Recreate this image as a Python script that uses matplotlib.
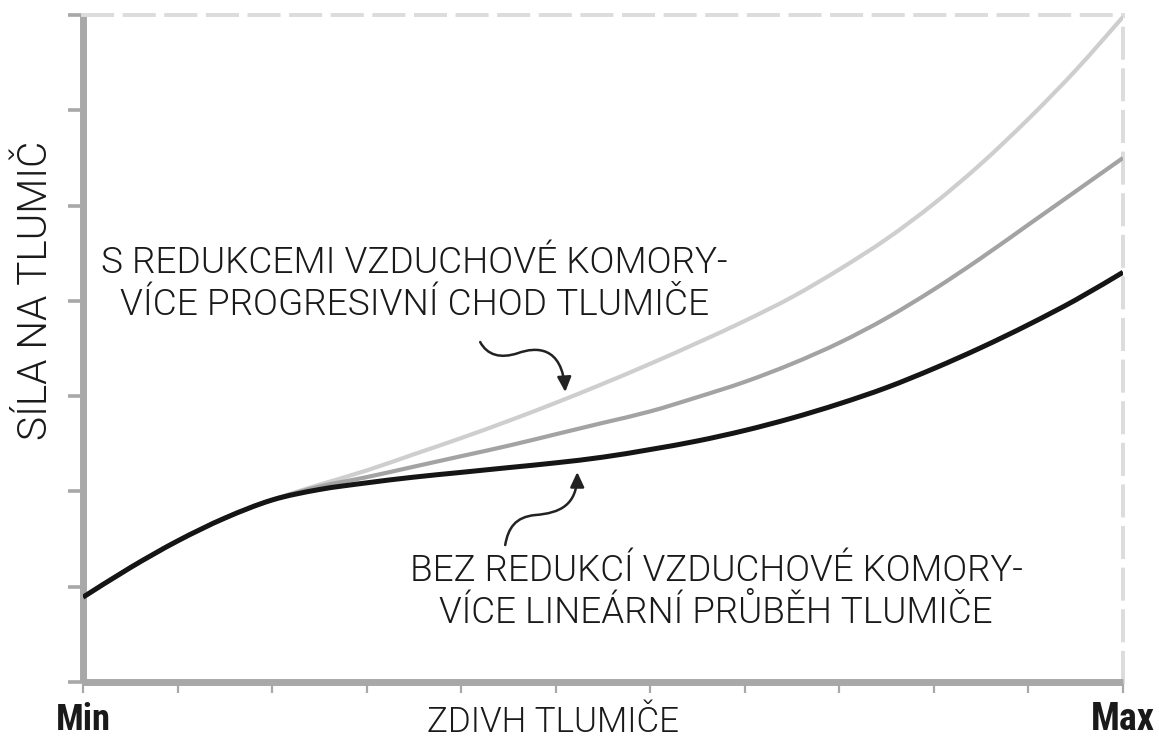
import matplotlib
matplotlib.use("Agg")
import matplotlib.pyplot as plt
from matplotlib.patches import FancyArrowPatch, ArrowStyle, PathPatch
from matplotlib.path import Path
import matplotlib.font_manager as fm
import numpy as np

# ---- data ----
stroke = [0.0, 0.5, 1.0, 1.5, 2.0, 2.5, 3.0, 3.5, 4.0, 4.5, 5.0, 5.5,
          6.0, 6.5, 7.0, 7.5, 8.0, 8.5, 9.0, 9.5, 10.0, 10.5, 11.0]
force_linear = [0.89, 1.20, 1.48, 1.72, 1.91, 2.02, 2.09, 2.15, 2.20, 2.25, 2.30, 2.36,
                2.44, 2.53, 2.64, 2.77, 2.92, 3.09, 3.29, 3.51, 3.75, 4.01, 4.30]
force_mid = [0.89, 1.20, 1.48, 1.72, 1.91, 2.05, 2.15, 2.26, 2.37, 2.48, 2.60, 2.72,
             2.84, 2.99, 3.15, 3.34, 3.56, 3.82, 4.12, 4.45, 4.80, 5.15, 5.50]
force_prog = [0.89, 1.20, 1.48, 1.72, 1.91, 2.07, 2.22, 2.39, 2.56, 2.74, 2.93, 3.13,
              3.34, 3.56, 3.79, 4.04, 4.33, 4.65, 5.02, 5.44, 5.91, 6.42, 6.98]
x_ticks = list(range(0, 12))
y_ticks = list(range(0, 8))

label_top = "S REDUKCEMI VZDUCHOVÉ KOMORY-\nVÍCE PROGRESIVNÍ CHOD TLUMIČE"
label_bottom = "BEZ REDUKCÍ VZDUCHOVÉ KOMORY-\nVÍCE LINEÁRNÍ PRŮBĚH TLUMIČE"
x_title = "ZDIVH TLUMIČE"
y_title = "SÍLA NA TLUMIČ"

# ---- font choice ----
entries = fm.fontManager.ttflist
names = {f.name for f in entries}
if "Roboto" in names:
    has_light = any(f.name == "Roboto" and f.weight in (300, "light") for f in entries)
    font_kw = dict(family="Roboto", fontweight=300 if has_light else "normal")
else:
    font_kw = dict(family="DejaVu Sans")
if "Roboto Condensed" in names:
    bold_kw = dict(family="Roboto Condensed", fontweight="bold")
else:
    bold_kw = dict(family=font_kw["family"], fontweight="bold")

fig = plt.figure(figsize=(11.59, 7.42), dpi=100)
ax = fig.add_axes([83/1159, 1-682/742, (1123-83)/1159, (682-15)/742])


def smooth_path(xs, ys):
    p = np.column_stack([xs, ys]).astype(float)
    verts = [p[0]]
    codes = [Path.MOVETO]
    n = len(p)
    for i in range(n - 1):
        p0 = p[i - 1] if i > 0 else p[i]
        p1, p2 = p[i], p[i + 1]
        p3 = p[i + 2] if i + 2 < n else p[i + 1]
        verts += [p1 + (p2 - p0) / 6.0, p2 - (p3 - p1) / 6.0, p2]
        codes += [Path.CURVE4] * 3
    return Path(verts, codes)


series = [(force_prog, "#cecece", 3.0, 3),
          (force_mid, "#a3a3a3", 3.0, 4),
          (force_linear, "#151515", 3.6, 5)]
for ys, col, lw, z in series:
    ax.add_patch(PathPatch(smooth_path(stroke, ys), fill=False, edgecolor=col, lw=lw,
                           capstyle="butt", joinstyle="round", zorder=z))

ax.set_xlim(0, 11)
ax.set_ylim(0, 7)
ax.set_xticks(x_ticks)
ax.set_yticks(y_ticks)
ax.set_xticklabels([])
ax.set_yticklabels([])
ax.tick_params(axis="y", direction="out", length=11, width=2.6, color="#a8a8a8")
ax.tick_params(axis="x", direction="out", length=8, width=1.6, color="#a8a8a8")

for s in ("left", "bottom"):
    ax.spines[s].set_color("#a8a8a8")
    ax.spines[s].set_linewidth(5.0)
    ax.spines[s].set_capstyle("butt")
for s in ("top", "right"):
    ax.spines[s].set_color("#dcdcdc")
    ax.spines[s].set_linewidth(2.8)
    ax.spines[s].set_linestyle((0, (7.5, 3.2)))

# axis titles
ax.set_xlabel(x_title, fontsize=22, color="#1a1a1a", **font_kw)
ax.xaxis.set_label_coords((553-83)/1040, -(722-682)/667, transform=ax.transAxes)
ax.xaxis.label.set_va("center")
ax.set_ylabel(y_title, fontsize=22, color="#1a1a1a", **font_kw)
ax.yaxis.set_label_coords(-(83-36)/1040, (682-290)/667, transform=ax.transAxes)
ax.yaxis.label.set_va("center")

t_min = ax.text(0, -(720-682)/667, "Min", transform=ax.get_xaxis_transform(), ha="center",
                va="center", fontsize=20, color="#1a1a1a", **bold_kw)
t_max = ax.text(11, -(720-682)/667, "Max", transform=ax.get_xaxis_transform(), ha="center",
                va="center", fontsize=20, color="#1a1a1a", **bold_kw)

t_top = ax.text((414-83)/94.5, (682-284)/95.3, label_top, ha="center", va="center",
                fontsize=24, linespacing=1.22, color="#1a1a1a", **font_kw)
t_bot = ax.text((716-83)/94.5, (682-592)/95.3, label_bottom, ha="center", va="center",
                fontsize=24, linespacing=1.22, color="#1a1a1a", **font_kw)

# size text so its extent matches the reference
fig.canvas.draw()
r = fig.canvas.get_renderer()
targets = [(t_top, 627, "w"), (t_bot, 612, "w"), (ax.xaxis.label, 252, "w"),
           (ax.yaxis.label, 300, "h"), (t_min, 55, "w"), (t_max, 64, "w")]
for _ in range(2):
    for t, tgt, d in targets:
        bb = t.get_window_extent(r)
        cur = bb.width if d == "w" else bb.height
        if cur > 0:
            t.set_fontsize(t.get_fontsize() * tgt / cur)
    fig.canvas.draw()


def px2d(px, py):
    return ((px - 83) / 94.5, (682 - py) / 95.3)


top_pts = [(480, 342), (487, 355), (500, 359), (518, 353), (535, 347), (562, 345), (565, 392)]
bot_pts = [(505, 545), (508, 528), (515, 517), (535, 515), (560, 513), (577, 505), (577, 472)]
codes = [Path.MOVETO] + [Path.CURVE4] * 6
style = ArrowStyle("-|>", head_length=9, head_width=4.2)
for pts in (top_pts, bot_pts):
    path = Path([px2d(*p) for p in pts], codes)
    arr = FancyArrowPatch(path=path, arrowstyle=style, lw=1.8, color="#222222",
                          transform=ax.transData, zorder=6)
    ax.add_patch(arr)

fig.savefig("out.png", dpi=100)
